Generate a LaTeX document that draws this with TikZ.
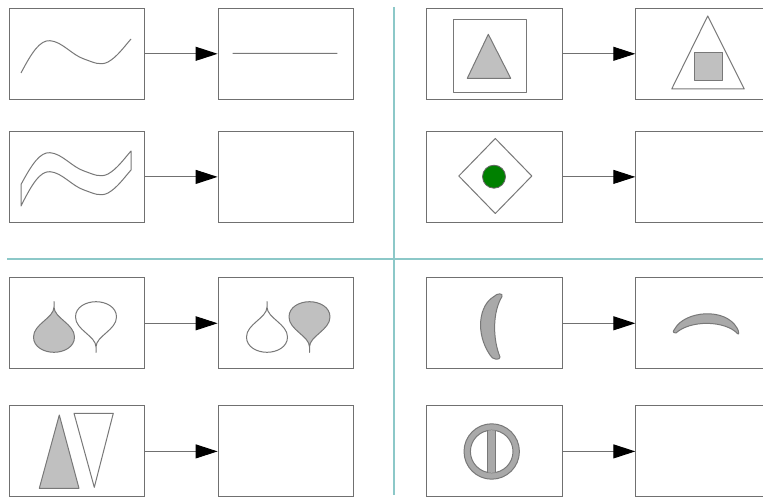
\documentclass[tikz,border=0pt]{standalone}
\usetikzlibrary{arrows.meta}
\definecolor{boxgray}{RGB}{112,112,112}
\definecolor{shapegray}{RGB}{120,120,120}
\definecolor{silverfill}{RGB}{192,192,192}
\definecolor{darkfill}{RGB}{169,169,169}
\definecolor{tealline}{RGB}{140,200,200}
\definecolor{dotgreen}{RGB}{0,128,0}
\tikzset{
  box/.style={draw=boxgray, line width=1pt, minimum width=135.4pt, minimum height=91pt, inner sep=0pt},
  conn/.style={draw=boxgray, line width=1pt, -{Triangle[length=22pt,width=14pt,black]}},
  shp/.style={draw=shapegray, line width=1pt, line join=round},
  divider/.style={draw=tealline, line width=2pt},
  drop/.pic={
    \path[pic actions] (0,-25.3) -- (0,-20) .. controls (0,-9) and (-20.5,-3) .. (-20.5,10)
      .. controls (-20.5,20) and (-10,25.3) .. (0,25.3)
      .. controls (10,25.3) and (20.5,20) .. (20.5,10)
      .. controls (20.5,-3) and (0,-9) .. (0,-20) -- cycle;
  }
}
\begin{document}
\begin{tikzpicture}[x=1pt,y=-1pt]
\useasboundingbox (0,0) rectangle (763,497);
\fill[white] (0,0) rectangle (763,497);

% dividers
\draw[divider] (394,7) -- (394,495);
\draw[divider] (7,259) -- (763,259);

% boxes
\node[box] (a1) at (77,53.8) {};
\node[box] (a2) at (285.8,53.8) {};
\node[box] (b1) at (77,176.9) {};
\node[box] (b2) at (285.8,176.9) {};
\node[box] (c1) at (494.3,53.8) {};
\node[box] (c2) at (703.5,53.8) {};
\node[box] (d1) at (494.3,176.9) {};
\node[box] (d2) at (703.5,176.9) {};
\node[box] (e1) at (77,323.3) {};
\node[box] (e2) at (285.8,323.3) {};
\node[box] (f1) at (77,451.4) {};
\node[box] (f2) at (285.8,451.4) {};
\node[box] (g1) at (494.3,323.3) {};
\node[box] (g2) at (703.5,323.3) {};
\node[box] (h1) at (494.3,451.4) {};
\node[box] (h2) at (703.5,451.4) {};

% connectors
\foreach \s/\t in {a1/a2,b1/b2,c1/c2,d1/d2,e1/e2,f1/f2,g1/g2,h1/h2}
  \draw[conn] (\s) -- (\t);

% row 1: curve -> line
\draw[shp] (21,73) .. controls (32,52) and (40,40) .. (50,40.7)
  .. controls (62,41.5) and (72,55) .. (84,59)
  .. controls (94,62.5) and (100,66) .. (108,62)
  .. controls (117,57) and (124,47) .. (131,39);
\draw[shp] (232.7,53.3) -- (337.3,53.5);

% row 2: band
\draw[shp] (21,184.5) .. controls (32,164) and (40,152) .. (50,152.7)
  .. controls (62,153.5) and (72,167) .. (84,171)
  .. controls (94,174.5) and (100,178) .. (108,174)
  .. controls (117,169) and (124,159) .. (131,151)
  -- (131,170)
  .. controls (124,178) and (117,188) .. (108,193)
  .. controls (100,197) and (94,193.5) .. (84,190)
  .. controls (72,186) and (62,172.5) .. (50,171.7)
  .. controls (40,171) and (32,184) .. (21,206) -- cycle;

% square/triangle
\draw[shp] (453.3,19.3) rectangle (526,92.3);
\draw[shp, fill=silverfill] (488.3,34.3) -- (510.7,78.3) -- (467.3,78.3) -- cycle;
\draw[shp] (707.7,16) -- (744.3,89) -- (671.7,89) -- cycle;
\draw[shp, fill=silverfill] (694,52.3) rectangle (722.7,80.3);

% diamond with dot
\draw[shp] (495.3,138.5) -- (531.8,176) -- (495.3,213.5) -- (458.8,176) -- cycle;
\draw[draw=black!60, line width=0.8pt, fill=dotgreen] (494,176.7) circle[radius=11.5];

% drops
\pic[shp, fill=silverfill] at (54,327) {drop};
\pic[shp, fill=white, yscale=-1] at (96,327) {drop};
\pic[shp, fill=white] at (267,327) {drop};
\pic[shp, fill=silverfill, yscale=-1] at (309.5,327) {drop};

% triangles row 4
\draw[shp, fill=silverfill] (59.3,415) -- (79,488.3) -- (39.3,488.3) -- cycle;
\draw[shp] (74,413.3) -- (113.3,413.3) -- (94.3,487.3) -- cycle;

% crescents
\draw[shp, fill=darkfill] (502,296.5) .. controls (503.5,293) and (497,293) .. (494,296.5)
  .. controls (479,305) and (475,333) .. (490,355)
  .. controls (492,360) and (500.5,360.5) .. (500,357)
  .. controls (493,340) and (492,313) .. (502,296.5) -- cycle;
\draw[shp, fill=darkfill] (676,333) .. controls (672,333) and (673,330) .. (675,328.5)
  .. controls (685,311) and (725,307) .. (737,328)
  .. controls (739,331) and (739,335) .. (738,334)
  .. controls (725,320) and (690,320) .. (676,333) -- cycle;

% ring with bar
\draw[shp, fill=darkfill] (491.7,451.5) circle[radius=27.7];
\draw[shp, fill=white] (491.7,451.5) circle[radius=21.3];
\begin{scope}
  \clip (491.7,451.5) circle[radius=21.3];
  \fill[darkfill] (487.8,425) rectangle (495.8,478);
  \draw[shp] (487.8,425) -- (487.8,478);
  \draw[shp] (495.8,425) -- (495.8,478);
\end{scope}
\end{tikzpicture}
\end{document}
